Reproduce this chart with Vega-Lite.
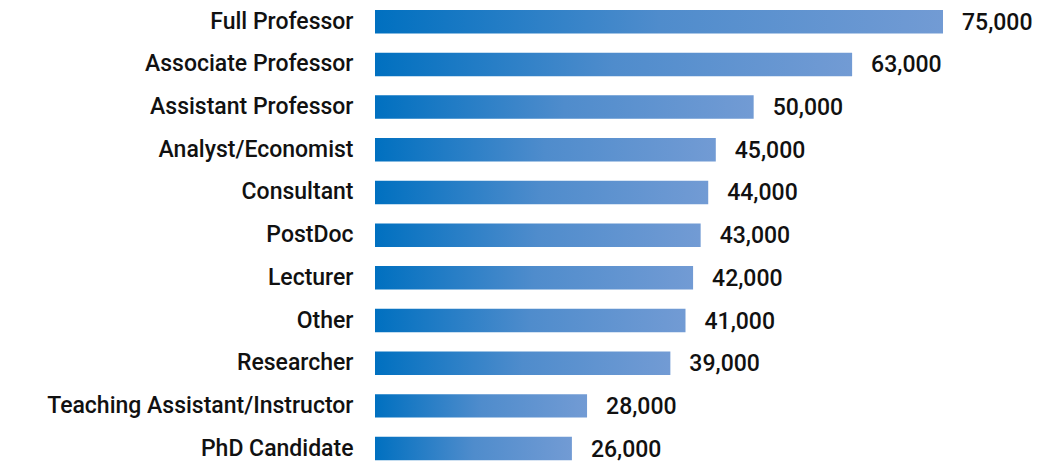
{
  "$schema": "https://vega.github.io/schema/vega-lite/v6.json",
  "autosize": "none",
  "width": 568,
  "height": 463,
  "padding": {"left": 375, "top": 0, "right": 97, "bottom": 0},
  "config": {"view": {"stroke": null}, "font": "Roboto"},
  "data": {"values": [
    {"role": "Full Professor", "salary": 75000},
    {"role": "Associate Professor", "salary": 63000},
    {"role": "Assistant Professor", "salary": 50000},
    {"role": "Analyst/Economist", "salary": 45000},
    {"role": "Consultant", "salary": 44000},
    {"role": "PostDoc", "salary": 43000},
    {"role": "Lecturer", "salary": 42000},
    {"role": "Other", "salary": 41000},
    {"role": "Researcher", "salary": 39000},
    {"role": "Teaching Assistant/Instructor", "salary": 28000},
    {"role": "PhD Candidate", "salary": 26000}
  ]},
  "encoding": {
    "y": {"field": "role", "type": "nominal", "sort": null,
      "scale": {"range": [10, 460.3], "paddingInner": 0.45, "paddingOuter": 0},
      "axis": {"title": null, "ticks": false, "domain": false, "labelPadding": 22, "labelLimit": 400,
        "labelFontSize": 23, "labelFontWeight": 500, "labelColor": "#111111", "labelFont": "Roboto"}},
    "x": {"field": "salary", "type": "quantitative",
      "scale": {"domain": [0, 75000]}, "axis": null}
  },
  "layer": [
    {"mark": {"type": "bar", "color": {"gradient": "linear", "x1": 0, "x2": 1, "y1": 0, "y2": 0,
      "stops": [{"offset": 0, "color": "#0070c0"}, {"offset": 0.5, "color": "#4f8ccc"}, {"offset": 1, "color": "#729bd4"}]}}},
    {"mark": {"type": "text", "align": "left", "baseline": "middle", "dx": 19, "dy": 1,
      "fontSize": 23, "fontWeight": 500, "color": "#111111", "font": "Roboto"},
     "encoding": {"text": {"field": "salary", "type": "quantitative", "format": ",d"}}}
  ]
}
